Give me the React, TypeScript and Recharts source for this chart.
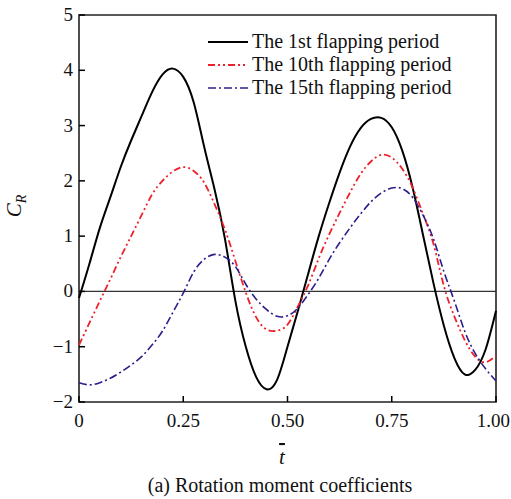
import { LineChart, Line, XAxis, YAxis, ReferenceLine, ReferenceArea } from "recharts";

const tValues = [
  0, 0.025, 0.05, 0.075, 0.1, 0.125, 0.15, 0.175, 0.2, 0.225, 0.25, 0.275, 0.3, 0.325, 0.35, 0.375, 0.4,
  0.425, 0.45, 0.475, 0.5, 0.525, 0.55, 0.575, 0.6, 0.625, 0.65, 0.675, 0.7, 0.725, 0.75, 0.775, 0.8,
  0.825, 0.85, 0.875, 0.9, 0.925, 0.95, 0.975, 1.0,
];

const period1 = [
  -0.12, 0.5, 1.15, 1.7, 2.25, 2.73, 3.17, 3.6, 3.92, 4.03, 3.88, 3.42, 2.62, 1.85, 0.95, -0.17, -1.0,
  -1.55, -1.77, -1.6, -1.0, -0.35, 0.33, 1.0, 1.6, 2.15, 2.62, 2.95, 3.12, 3.14, 2.97, 2.55, 1.88,
  1.02, 0.15, -0.62, -1.2, -1.5, -1.42, -1.05, -0.35,
];

const period10 = [
  -0.97, -0.57, -0.17, 0.22, 0.62, 1.0, 1.38, 1.75, 2.0, 2.17, 2.25, 2.18, 1.97, 1.58, 1.12, 0.55, -0.02,
  -0.47, -0.69, -0.71, -0.6, -0.27, 0.12, 0.6, 1.03, 1.42, 1.79, 2.12, 2.35, 2.47, 2.42, 2.22, 1.88,
  1.4, 0.86, 0.1, -0.45, -0.88, -1.18, -1.28, -1.16,
];

const period15 = [
  -1.65, -1.69, -1.65, -1.57, -1.46, -1.33, -1.18, -0.97, -0.72, -0.38, -0.03, 0.35, 0.58, 0.67, 0.62, 0.45, 0.13,
  -0.14, -0.33, -0.45, -0.44, -0.3, -0.05, 0.24, 0.58, 0.88, 1.15, 1.4, 1.62, 1.78, 1.87, 1.86, 1.7,
  1.38, 0.95, 0.36, -0.17, -0.72, -1.12, -1.4, -1.62,
];

const xTicks = [0, 0.25, 0.5, 0.75, 1];
const yTicks = [-2, -1, 0, 1, 2, 3, 4, 5];

const seriesNames = ["The 1st flapping period", "The 10th flapping period", "The 15th flapping period"];

const data = tValues.map((t, i) => ({ t, p1: period1[i], p10: period10[i], p15: period15[i] }));

const FONT = "Liberation Serif";

const styles = [
  { key: "p1", color: "#000000", dash: undefined as string | undefined, width: 2 },
  { key: "p10", color: "#f0202a", dash: "7 3 2 3 2 3", width: 1.8 },
  { key: "p15", color: "#2b1f8c", dash: "8 3 2 3", width: 1.6 },
];

function XTick(props: any) {
  const { x, y, payload } = props;
  const v = payload.value as number;
  const label = v === 0 ? "0" : v.toFixed(2);
  // the last label sits against the right edge, as in the source figure
  const last = v === 1;
  return (
    <g>
      <line x1={x} x2={x} y1={y} y2={y - 6} stroke="#000" strokeWidth={1.5} />
      <text
        x={last ? 510 : x}
        y={y + 25}
        textAnchor={last ? "end" : "middle"}
        fontSize={19}
        fontFamily={FONT}
        fill="#111"
      >
        {label}
      </text>
    </g>
  );
}

function YTick(props: any) {
  const { x, y, payload } = props;
  const v = payload.value as number;
  const label = v < 0 ? "\u2212" + Math.abs(v) : String(v);
  return (
    <g>
      <line x1={x} x2={x + 6} y1={y} y2={y} stroke="#000" strokeWidth={1.5} />
      <text x={x - 6} y={y + 6} textAnchor="end" fontSize={19} fontFamily={FONT} fill="#111">
        {label}
      </text>
    </g>
  );
}

function LegendBox() {
  return (
    <div style={{ position: "absolute", left: 208, top: 30, fontFamily: FONT, fontSize: 20, color: "#111", lineHeight: "23px" }}>
      {seriesNames.map((name, i) => (
        <div key={name} style={{ display: "flex", alignItems: "center", height: 23, whiteSpace: "nowrap" }}>
          <svg width={40} height={10} style={{ marginRight: 4 }}>
            <line
              x1={0}
              x2={40}
              y1={5}
              y2={5}
              stroke={styles[i].color}
              strokeWidth={styles[i].width}
              strokeDasharray={styles[i].dash}
            />
          </svg>
          <span>{name}</span>
        </div>
      ))}
    </div>
  );
}

export default function App() {
  return (
    <div style={{ position: "absolute", left: 0, top: 0, width: 511, height: 499, background: "#fff" }}>
      <LineChart width={511} height={499} data={data} margin={{ top: 15, right: 15, left: 0, bottom: 0 }}>
        <XAxis
          dataKey="t"
          type="number"
          domain={[0, 1]}
          ticks={xTicks}
          height={97}
          tickSize={0}
          tickMargin={0}
          axisLine={false}
          tick={<XTick />}
          interval={0}
        />
        <YAxis
          type="number"
          domain={[-2, 5]}
          ticks={yTicks}
          width={79}
          tickSize={0}
          tickMargin={0}
          axisLine={false}
          tick={<YTick />}
          interval={0}
        />
        <ReferenceArea x1={0} x2={1} y1={-2} y2={5} fill="none" stroke="#222" strokeWidth={1.6} ifOverflow="visible" />
        <ReferenceLine y={0} stroke="#333" strokeWidth={1.2} />
        {styles.map((s, i) => (
          <Line
            key={s.key}
            dataKey={s.key}
            name={seriesNames[i]}
            type="natural"
            stroke={s.color}
            strokeWidth={s.width}
            strokeDasharray={s.dash}
            dot={false}
            isAnimationActive={false}
          />
        ))}
        <text
          x={21}
          y={206}
          transform="rotate(-90, 21, 206)"
          textAnchor="middle"
          fontSize={21}
          fontFamily={FONT}
          fontStyle="italic"
          fill="#111"
        >
          C<tspan fontSize={14} dy={5}>R</tspan>
        </text>
        <text x={282} y={464} textAnchor="middle" fontSize={21} fontFamily={FONT} fontStyle="italic" fill="#111" style={{ textDecoration: "overline" }}>
          t
        </text>
        <text x={280} y={492} textAnchor="middle" fontSize={20} fontFamily={FONT} fill="#111">
          (a) Rotation moment coefficients
        </text>
      </LineChart>
      <LegendBox />
    </div>
  );
}
